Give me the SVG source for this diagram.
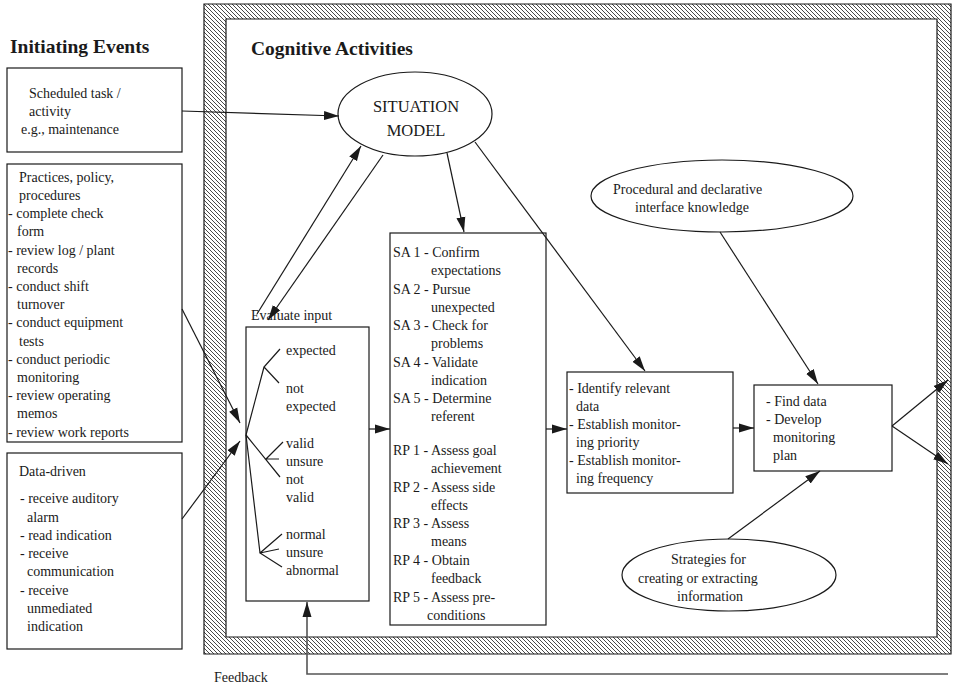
<svg xmlns="http://www.w3.org/2000/svg" width="956" height="689" viewBox="0 0 956 689">
  <style>
    text { font-family: "Liberation Serif", "Times New Roman", "DejaVu Serif", serif; font-size: 14px; fill: #1a1a1a; }
    .title { font-size: 19.5px; font-weight: bold; }
    .sit { font-size: 16.5px; }
    .box { fill: #fff; stroke: #1a1a1a; stroke-width: 1.2; }
    .line { fill: none; stroke: #1a1a1a; stroke-width: 1.2; }
    .arrow { fill: none; stroke: #1a1a1a; stroke-width: 1.2; marker-end: url(#head); }
    .fb { fill: none; stroke: #555; stroke-width: 1.6; marker-end: url(#head); }
  </style>
  <defs>
    <pattern id="hatch" patternUnits="userSpaceOnUse" width="4" height="4">
      <path d="M-1,-1 L5,5 M-1,3 L1,5 M3,-1 L5,1" stroke="#1a1a1a" stroke-width="0.8"/>
    </pattern>
    <marker id="head" markerUnits="userSpaceOnUse" markerWidth="16" markerHeight="10" refX="15" refY="5" orient="auto">
      <path d="M0,0.5 L15,5 L0,9.5 z" fill="#1a1a1a"/>
    </marker>
  </defs>

  <rect width="956" height="689" fill="#fff"/>

  <!-- hatched frame around the cognitive activities area -->
  <path d="M204,4 H951 V654 H204 Z M226,19 V637 H937 V19 Z" fill="url(#hatch)" fill-rule="evenodd" stroke="#1a1a1a" stroke-width="1.2"/>

  <text class="title" x="10" y="53">Initiating Events</text>
  <text class="title" x="251" y="55">Cognitive Activities</text>

  <!-- initiating events -->
  <g id="scheduled">
    <rect class="box" x="7" y="68" width="175" height="84"/>
    <text x="29" y="98">Scheduled task /</text>
    <text x="29" y="116">activity</text>
    <text x="21" y="134">e.g., maintenance</text>
  </g>

  <g id="practices">
    <rect class="box" x="7" y="164" width="175" height="278"/>
    <text x="19" y="182">Practices, policy,</text>
    <text x="19" y="200">procedures</text>
    <text x="8" y="218">- complete check</text>
    <text x="17" y="236">form</text>
    <text x="8" y="255">- review log / plant</text>
    <text x="17" y="273">records</text>
    <text x="8" y="291">- conduct shift</text>
    <text x="17" y="309">turnover</text>
    <text x="8" y="327">- conduct equipment</text>
    <text x="19" y="346">tests</text>
    <text x="8" y="364">- conduct periodic</text>
    <text x="17" y="382">monitoring</text>
    <text x="8" y="400">- review operating</text>
    <text x="17" y="418">memos</text>
    <text x="8" y="437">- review work reports</text>
  </g>

  <g id="data-driven">
    <rect class="box" x="7" y="453" width="175" height="196"/>
    <text x="19" y="476">Data-driven</text>
    <text x="20" y="503">- receive auditory</text>
    <text x="27" y="522">alarm</text>
    <text x="20" y="540">- read indication</text>
    <text x="20" y="558">- receive</text>
    <text x="27" y="576">communication</text>
    <text x="20" y="595">- receive</text>
    <text x="27" y="613">unmediated</text>
    <text x="27" y="631">indication</text>
  </g>

  <!-- cognitive activities -->
  <g id="situation-model">
    <ellipse class="box" cx="415" cy="114" rx="77" ry="42"/>
    <text class="sit" x="416" y="112" text-anchor="middle">SITUATION</text>
    <text class="sit" x="416" y="136" text-anchor="middle">MODEL</text>
  </g>

  <g id="evaluate-input">
    <text x="251" y="320">Evaluate input</text>
    <rect class="box" x="246" y="327" width="123" height="274"/>
    <path class="line" d="M246,435 L264,367 M280,349 L264,367 L279,383"/>
    <path class="line" d="M246,435 L280,477 M283,442 L266,459 L279,459"/>
    <path class="line" d="M246,435 L260,553 M282,534 L260,553 L282,567 M260,553 L279,549"/>
    <text x="286" y="355">expected</text>
    <text x="286" y="393">not</text>
    <text x="286" y="411">expected</text>
    <text x="286" y="448">valid</text>
    <text x="286" y="466">unsure</text>
    <text x="286" y="484">not</text>
    <text x="286" y="502">valid</text>
    <text x="286" y="539">normal</text>
    <text x="286" y="557">unsure</text>
    <text x="286" y="575">abnormal</text>
  </g>

  <g id="sa-rp">
    <rect class="box" x="390" y="233" width="156" height="392"/>
    <text x="393" y="257">SA 1 - Confirm</text>
    <text x="431" y="275">expectations</text>
    <text x="393" y="294">SA 2 - Pursue</text>
    <text x="431" y="312">unexpected</text>
    <text x="393" y="330">SA 3 - Check for</text>
    <text x="431" y="348">problems</text>
    <text x="393" y="367">SA 4 - Validate</text>
    <text x="431" y="385">indication</text>
    <text x="393" y="403">SA 5 - Determine</text>
    <text x="431" y="421">referent</text>
    <text x="393" y="455">RP 1 - Assess goal</text>
    <text x="431" y="473">achievement</text>
    <text x="393" y="492">RP 2 - Assess side</text>
    <text x="431" y="510">effects</text>
    <text x="393" y="528">RP 3 - Assess</text>
    <text x="431" y="546">means</text>
    <text x="393" y="565">RP 4 - Obtain</text>
    <text x="431" y="583">feedback</text>
    <text x="393" y="602">RP 5 - Assess pre-</text>
    <text x="427" y="620">conditions</text>
  </g>

  <g id="identify">
    <rect class="box" x="567" y="372" width="166" height="121"/>
    <text x="569" y="393">- Identify relevant</text>
    <text x="576" y="411">data</text>
    <text x="569" y="429">- Establish monitor-</text>
    <text x="576" y="447">ing priority</text>
    <text x="569" y="465">- Establish monitor-</text>
    <text x="576" y="483">ing frequency</text>
  </g>

  <g id="find-data">
    <rect class="box" x="754" y="385" width="138" height="86"/>
    <text x="766" y="406">- Find data</text>
    <text x="766" y="424">- Develop</text>
    <text x="773" y="442">monitoring</text>
    <text x="773" y="460">plan</text>
  </g>

  <g id="interface-knowledge">
    <ellipse class="box" cx="722" cy="196" rx="131" ry="36"/>
    <text x="613" y="194">Procedural and declarative</text>
    <text x="635" y="212">interface knowledge</text>
  </g>

  <g id="strategies">
    <ellipse class="box" cx="729" cy="575" rx="107" ry="36"/>
    <text x="671" y="564">Strategies for</text>
    <text x="638" y="583">creating or extracting</text>
    <text x="677" y="601">information</text>
  </g>

  <text x="214" y="682">Feedback</text>

  <!-- connectors -->
  <g id="connectors">
    <path class="arrow" d="M182,111 L339,116"/>
    <path class="arrow" d="M182,309 L240,423"/>
    <path class="arrow" d="M182,519 L240,441"/>
    <path class="arrow" d="M257,314 L361,146"/>
    <path class="arrow" d="M383,155 L268,320"/>
    <path class="arrow" d="M447,153 L464,232"/>
    <path class="arrow" d="M475,142 L645,371"/>
    <path class="arrow" d="M369,429 L390,429"/>
    <path class="arrow" d="M546,429 L567,429"/>
    <path class="arrow" d="M733,428 L754,428"/>
    <path class="arrow" d="M892,426 L948,380"/>
    <path class="arrow" d="M892,426 L948,464"/>
    <path class="arrow" d="M720,232 L818,384"/>
    <path class="arrow" d="M728,539 L820,471"/>
    <path class="fb" d="M948,674 L307,674 L307,602"/>
  </g>
</svg>
